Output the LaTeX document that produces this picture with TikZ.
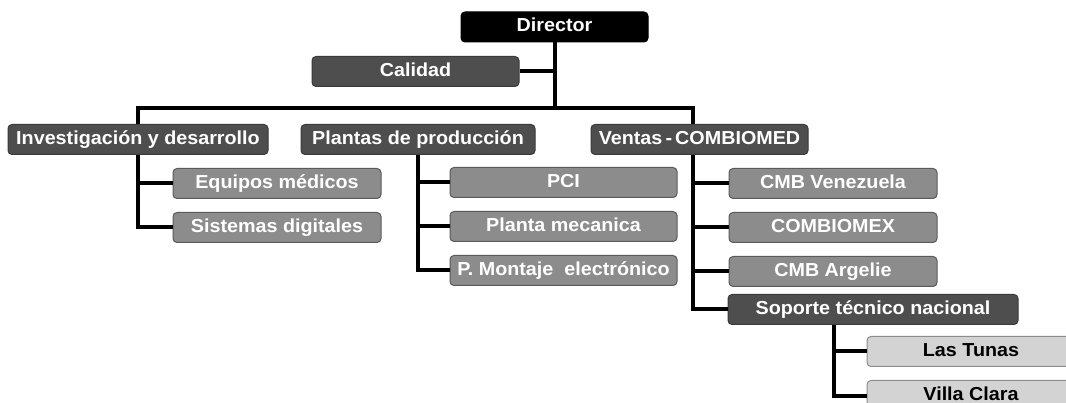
\documentclass[tikz,border=0pt]{standalone}
\usepackage{fontspec}
\setmainfont[FakeStretch=1.05]{Liberation Sans}
\usetikzlibrary{positioning}

\definecolor{darkbox}{HTML}{4E4E4E}
\definecolor{darkline}{HTML}{3A3A3A}
\definecolor{midbox}{HTML}{8C8C8C}
\definecolor{midline}{HTML}{5A5A5A}
\definecolor{lightbox}{HTML}{D3D3D3}
\definecolor{lightline}{HTML}{8C8C8C}

\begin{document}
\begin{tikzpicture}[
          x=1pt, y=-1pt,
          node distance=13pt,
          box/.style={
              rectangle, rounded corners=4pt, draw, align=center,
              minimum height=30pt, inner sep=0pt, line width=1pt,
              text height=13.5pt, text depth=3.5pt, text=white,
              font=\bfseries\fontsize{18.8}{21}\selectfont
          },
          head/.style={box, fill=black, draw=black},
          unit/.style={box, fill=darkbox, draw=darkline},
          dept/.style={box, fill=midbox, draw=midline},
          branch/.style={box, fill=lightbox, draw=lightline, text=black},
          link/.style={line width=4pt, black},
      ]
          \useasboundingbox (0,0) rectangle (1066,403);

          % Top blocks
          \node [head, minimum width=187pt] (director) at (554.5,27) {Director};
          \node [unit, minimum width=207pt] (calidad) at (415.5,71.5) {Calidad};

          % Main units
          \node [unit, minimum width=260pt] (invest) at (138,139.5) {Investigación y desarrollo};
          \node [unit, minimum width=234pt] (plantas) at (418,139.5) {Plantas de producción};
          \node [unit, minimum width=217pt] (ventas) at (699.5,139.5) {Ventas\,-\,COMBIOMED};

          % Investigacion
          \node [dept, minimum width=208pt] (equipos) at (277,183.5) {Equipos médicos};
          \node [dept, minimum width=208pt, below=of equipos] (sistemas) {Sistemas digitales};

          % Plantas
          \node [dept, minimum width=227pt] (pci) at (563.5,182.5) {PCI};
          \node [dept, minimum width=227pt, below=of pci] (mecanica) {Planta mecanica};
          \node [dept, minimum width=227pt, below=of mecanica] (montaje) {P. Montaje\ \ electrónico};

          % Ventas
          \node [dept, minimum width=208pt] (venezuela) at (833,183.5) {CMB Venezuela};
          \node [dept, minimum width=208pt, below=of venezuela] (combiomex) {COMBIOMEX};
          \node [dept, minimum width=208pt, below=of combiomex] (argelie) {CMB Argelie};
          \node [unit, minimum width=290pt] (soporte) at (873,309.5) {Soporte técnico nacional};

          % Soporte
          \node [branch, minimum width=208pt] (tunas) at (971,351.5) {Las Tunas};
          \node [branch, minimum width=208pt, below=of tunas] (villa) {Villa Clara};

          % Connectors
          \coordinate (bus) at (554.5,108);
          \coordinate (vtop) at ([xshift=-6.5pt]ventas.north);
          \coordinate (vspine) at ([xshift=-6.5pt]ventas.south);
          \coordinate (sspine) at ([xshift=-39pt]soporte.south);

          \draw [link] (director.south) -- (bus);
          \draw [link] (calidad.east) -- (calidad.east -| director.south);
          \draw [link] (invest.north) |- (bus) -| (vtop);

          \draw [link] (invest.south) |- (sistemas.west);
          \draw [link] (equipos.west) -- (equipos.west -| invest.south);

          \draw [link] (plantas.south) |- (montaje.west);
          \draw [link] (pci.west) -- (pci.west -| plantas.south);
          \draw [link] (mecanica.west) -- (mecanica.west -| plantas.south);

          \draw [link] (vspine) |- (soporte.west);
          \draw [link] (venezuela.west) -- (venezuela.west -| vspine);
          \draw [link] (combiomex.west) -- (combiomex.west -| vspine);
          \draw [link] (argelie.west) -- (argelie.west -| vspine);

          \draw [link] (sspine) |- (villa.west);
          \draw [link] (tunas.west) -- (tunas.west -| sspine);
        \end{tikzpicture}
\end{document}
